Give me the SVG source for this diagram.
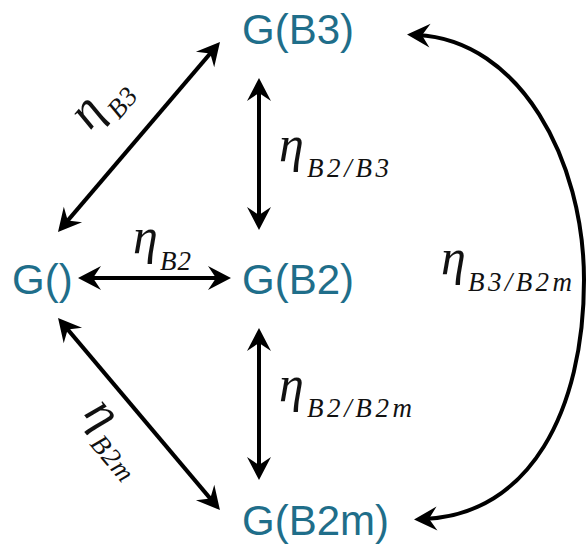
<svg xmlns="http://www.w3.org/2000/svg" width="587" height="546" viewBox="0 0 587 546">
<style>
.node{font-family:"Liberation Sans",Arial,sans-serif;font-size:42px;fill:#1f6e8a}
.eta{font-family:"Liberation Serif","Times New Roman",serif;font-style:italic;font-size:50px;fill:#111}
.sub{font-family:"Liberation Serif","Times New Roman",serif;font-style:italic;font-size:27px;letter-spacing:1px;fill:#111}
.conn{fill:none;stroke:#000;stroke-width:4;marker-start:url(#ah);marker-end:url(#ah)}
</style>
<defs>
<marker id="ah" viewBox="-25 -13 27 26" refX="-10" refY="0" markerWidth="27" markerHeight="26" markerUnits="userSpaceOnUse" orient="auto-start-reverse">
<path d="M0,0 L-23,-12 L-15,0 L-23,12 Z" fill="#000"/>
</marker>
</defs>
<rect width="587" height="546" fill="#fff"/>
<g id="connectors">
<line class="conn" x1="64.5" y1="224.4" x2="213.5" y2="49.6"/>
<line class="conn" x1="88" y1="278" x2="221" y2="278"/>
<line class="conn" x1="259" y1="88" x2="259" y2="220"/>
<line class="conn" x1="259" y1="338" x2="259" y2="470"/>
<line class="conn" x1="64.5" y1="325.6" x2="213.5" y2="502.4"/>
<path class="conn" d="M417,35 C520,40 584,160 584,280 C584,410 530,515 424,519"/>
<g transform="translate(90,131) rotate(-49.5)"><text class="eta" x="0" y="0">η</text><text class="sub" x="27" y="15">B3</text></g>
<text class="eta" x="133" y="253">η</text><text class="sub" x="160" y="270">B2</text>
<text class="eta" x="279" y="161">η</text><text class="sub" x="307" y="177" textLength="83">B2/B3</text>
<text class="eta" x="279" y="401">η</text><text class="sub" x="307" y="417" textLength="106">B2/B2m</text>
<text class="eta" x="441" y="274">η</text><text class="sub" x="468" y="291" textLength="105">B3/B2m</text>
<g transform="translate(83,414) rotate(49.8)"><text class="eta" x="0" y="0">η</text><text class="sub" x="27" y="15">B2m</text></g>
</g>
<g id="n-g"><text class="node" x="12" y="294">G()</text></g>
<g id="n-b3"><text class="node" x="242" y="44">G(B3)</text></g>
<g id="n-b2"><text class="node" x="242" y="294">G(B2)</text></g>
<g id="n-b2m"><text class="node" x="242" y="535">G(B2m)</text></g>
</svg>
